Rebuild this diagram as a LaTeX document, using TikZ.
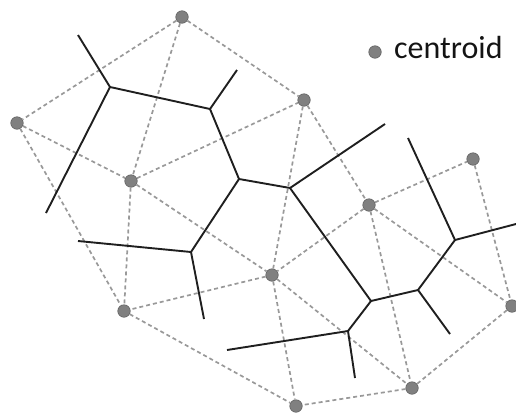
\documentclass[tikz,border=0pt]{standalone}
\usepackage{fontspec}
\setmainfont{Carlito}
\begin{document}
\begin{tikzpicture}[x=1pt,y=-1pt,
  cent/.style={circle,fill=black!50,draw=black!62,line width=0.6pt,minimum size=12.5pt,inner sep=0pt},
  del/.style={draw=black!40,line width=1.7pt,dash pattern=on 4pt off 3pt},
  vor/.style={draw=black!88,line width=1.9pt}]
\useasboundingbox (0,0) rectangle (516,413);
% voronoi vertices and free ends
\coordinate (v1) at (110,87);
\coordinate (v2) at (210,109);
\coordinate (v3) at (239,179);
\coordinate (v4) at (290,188);
\coordinate (v6) at (191,252);
\coordinate (v7) at (371,301);
\coordinate (v8) at (418,290);
\coordinate (v9) at (348,331);
\coordinate (v10) at (455,240);
\coordinate (e1) at (78,35);
\coordinate (e2) at (46,213);
\coordinate (e3) at (237,70);
\coordinate (e4) at (385,124);
\coordinate (e5) at (78,241);
\coordinate (e6) at (204,319);
\coordinate (e7) at (227,350);
\coordinate (e8) at (355,378);
\coordinate (e9) at (450,334);
\coordinate (e10) at (516,224);
\coordinate (e11) at (408,138);
% centroids
\node[cent] (c1) at (182,17) {};
\node[cent] (c2) at (17,123) {};
\node[cent] (c3) at (131,181) {};
\node[cent] (c4) at (304,100) {};
\node[cent] (c5) at (473,159) {};
\node[cent] (c6) at (369,205) {};
\node[cent] (c7) at (272,275) {};
\node[cent] (c8) at (124,311) {};
\node[cent] (c9) at (512,306) {};
\node[cent] (c10) at (412,388) {};
\node[cent] (c11) at (296,406) {};
% delaunay edges
\path[del] (c1)--(c2) (c1)--(c3) (c1)--(c4) (c2)--(c3) (c2)--(c8)
  (c3)--(c4) (c3)--(c8) (c3)--(c7) (c4)--(c7) (c4)--(c6)
  (c6)--(c5) (c5)--(c9) (c6)--(c9) (c6)--(c7) (c6)--(c10)
  (c7)--(c8) (c7)--(c10) (c7)--(c11) (c8)--(c11) (c9)--(c10) (c10)--(c11);
% voronoi edges
\path[vor] (v1)--(e1) (v1)--(e2) (v2)--(e3) (v4)--(e4) (v6)--(e5) (v6)--(e6)
  (v9)--(e7) (v9)--(e8) (v8)--(e9) (v10)--(e10) (v10)--(e11);
\path[vor,line join=round] (v1)--(v2)--(v3)--(v4)--(v7)--(v8)--(v10)
  (v3)--(v6) (v7)--(v9);
% legend
\node[cent] (lg) at (375,52) {};
\node[anchor=base west,inner sep=0pt,text=black!92,font=\fontsize{32}{38}\selectfont] (lt) at (394,58) {centroid};
\end{tikzpicture}
\end{document}
